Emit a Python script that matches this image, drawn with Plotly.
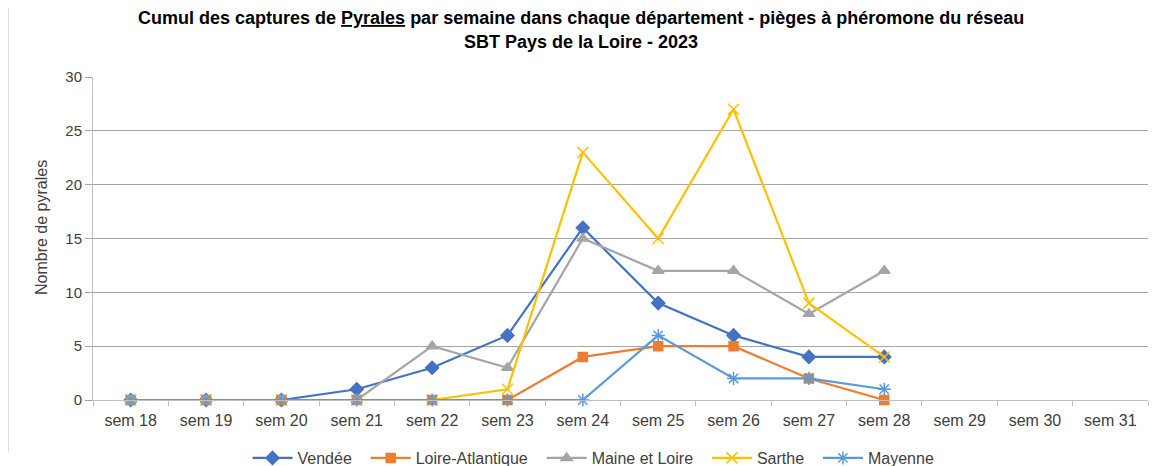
import plotly.graph_objects as go

weeks = [f"sem {w}" for w in range(18, 32)]

vendee = [0, 0, 0, 1, 3, 6, 16, 9, 6, 4, 4]
loire_atlantique = [0, 0, 0, 0, 0, 0, 4, 5, 5, 2, 0]
maine_et_loire = [0, 0, 0, 0, 5, 3, 15, 12, 12, 8, 12]
sarthe = [0, 0, 0, 0, 0, 1, 23, 15, 27, 9, 4]
mayenne = [0, 0, 0, 0, 0, 0, 0, 6, 2, 2, 1]

title_lines = [
    "Cumul des captures de <u>Pyrales</u> par semaine dans chaque département - pièges à phéromone du réseau",
    "SBT Pays de la Loire - 2023",
]
y_label = "Nombre de pyrales"

series = [
    ("Vendée", vendee, "#4472C4", "diamond", 10),
    ("Loire-Atlantique", loire_atlantique, "#ED7D31", "square", 9),
    ("Maine et Loire", maine_et_loire, "#A5A5A5", "triangle-up", 10),
    ("Sarthe", sarthe, "#FFC000", "x-thin", 11),
    ("Mayenne", mayenne, "#5B9BD5", "asterisk", 11),
]

# page has an 8px body margin, so the figure is sized to fit inside the window
W, H = 1156, 458
L, R, T, B = 85, 16, 69, 66
plot_w = W - L - R
plot_h = H - T - B


def paper_y(px_from_top):
    return (H - B - px_from_top) / plot_h


def paper_x(px_from_left):
    return (px_from_left - L) / plot_w


fig = go.Figure()
for name, values, color, symbol, size in series:
    fig.add_trace(go.Scatter(
        x=weeks[:len(values)],
        y=values,
        name=name + "\u00a0\u00a0",
        mode="lines+markers",
        line=dict(color=color, width=2.2),
        marker=dict(symbol=symbol, size=size, color=color,
                    line=dict(color=color, width=1.5)),
        cliponaxis=False,
    ))

for line, ypx in zip(title_lines, [10, 34]):
    fig.add_annotation(
        text=f"<b>{line}</b>", xref="paper", yref="paper",
        x=paper_x(573), y=paper_y(ypx), xanchor="center", yanchor="middle",
        showarrow=False, font=dict(family="Liberation Sans, Arial", size=18, color="black"),
    )

# y axis title, placed by hand to sit a little above the plot centre as in the original
fig.add_annotation(
    text=y_label, xref="paper", yref="paper", textangle=-90,
    x=paper_x(33), y=paper_y(220), xanchor="center", yanchor="middle",
    showarrow=False, font=dict(family="Liberation Sans, Arial", size=16, color="#404040"),
)

fig.update_layout(
    width=W,
    height=H,
    plot_bgcolor="white",
    paper_bgcolor="white",
    font=dict(family="Liberation Sans, Arial", size=14, color="#404040"),
    margin=dict(l=L, r=R, t=T, b=B, autoexpand=False),
    xaxis=dict(
        categoryorder="array", categoryarray=weeks, range=[-0.5, 13.5],
        showline=True, linecolor="#BFBFBF", linewidth=1,
        ticks="outside", tickson="boundaries", ticklen=5, tickcolor="#BFBFBF",
        showgrid=False, tickfont=dict(size=16, color="#404040"),
        ticklabelstandoff=6,
        automargin=False,
    ),
    yaxis=dict(
        range=[0, 30], dtick=5,
        showline=True, linecolor="#BFBFBF", linewidth=1,
        gridcolor="#A6A6A6", gridwidth=1, zeroline=False,
        ticks="outside", ticklen=7, tickcolor="#A6A6A6",
        tickfont=dict(size=15, color="#404040"),
        automargin=False,
    ),
    legend=dict(
        orientation="h", x=paper_x(590), xanchor="center",
        yref="container", y=1 - 450 / H, yanchor="middle",
        font=dict(size=16, color="#404040"), itemwidth=40,
    ),
    shapes=[dict(type="line", xref="paper", yref="paper",
                 x0=-L / plot_w, x1=-L / plot_w, y0=paper_y(444), y1=paper_y(-8),
                 line=dict(color="#BFBFBF", width=1))],
)

fig.write_html("out.html")
